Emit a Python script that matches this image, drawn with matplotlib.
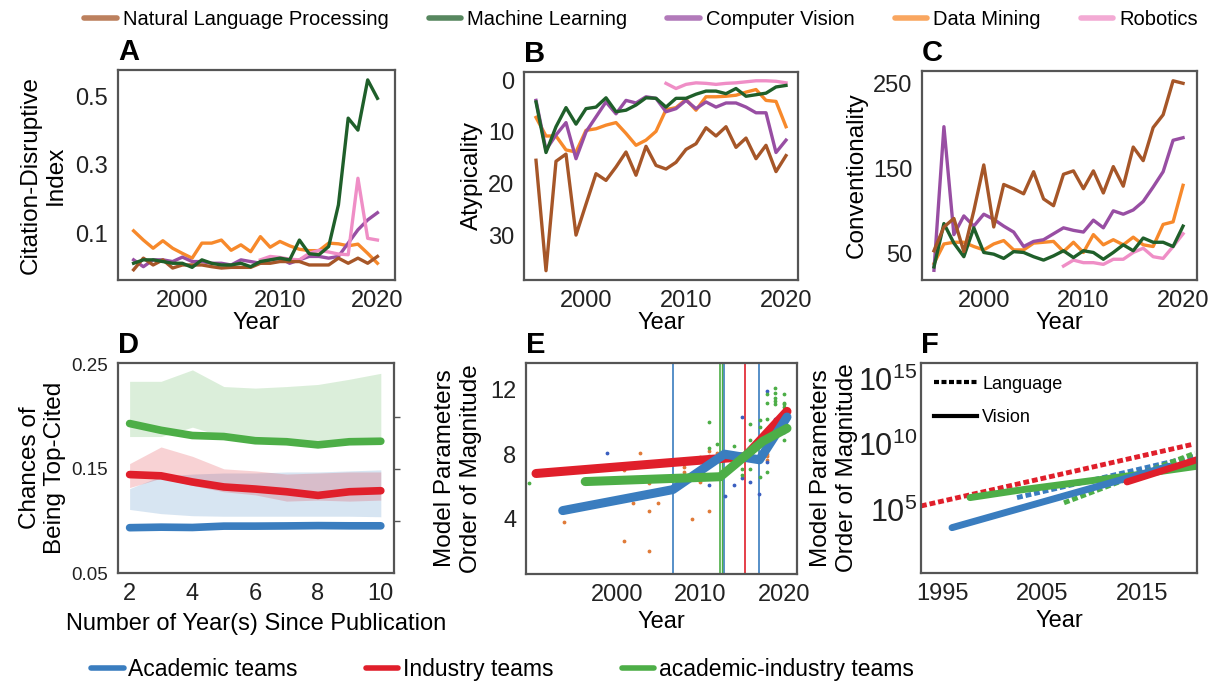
import numpy as np
import matplotlib
matplotlib.use("Agg")
import matplotlib.pyplot as plt
from matplotlib.lines import Line2D

plt.rcParams['font.family'] = ['Liberation Sans', 'DejaVu Sans']

# ---------------- data ----------------
fields = ["Natural Language Processing", "Machine Learning", "Computer Vision",
          "Data Mining", "Robotics"]
field_colors = ["#a65628", "#1f5f2a", "#984ea3", "#f7892b", "#ef8ec6"]

years = np.arange(1995, 2021)
years_rob = np.arange(2008, 2021)

# A: citation-disruptive index
cd_nlp = [-0.007, 0.027, 0.007, 0.022, -0.002, 0.007, 0.007, 0.007, 0.002, -0.002, 0.0, 0.0, 0.0,
          0.012, 0.012, 0.017, 0.017, 0.017, 0.007, 0.007, 0.007, 0.027, 0.012, 0.027, 0.012, 0.032]
cd_ml = [0.012, 0.022, 0.022, 0.017, 0.012, 0.012, 0.0, 0.022, 0.012, 0.007, 0.007, 0.012, 0.002,
         0.017, 0.022, 0.027, 0.022, 0.08, 0.04, 0.037, 0.061, 0.183, 0.437, 0.402, 0.549, 0.495]
cd_cv = [0.022, 0.002, 0.022, 0.022, 0.017, 0.03, 0.017, 0.017, 0.012, 0.012, 0.007, 0.022, 0.017,
         0.012, 0.022, 0.027, 0.012, 0.022, 0.032, 0.032, 0.027, 0.032, 0.071, 0.11, 0.139, 0.16]
cd_dm = [0.107, 0.08, 0.056, 0.078, 0.056, 0.041, 0.027, 0.071, 0.071, 0.08, 0.05, 0.066, 0.046,
         0.09, 0.059, 0.076, 0.063, 0.053, 0.049, 0.049, 0.071, 0.069, 0.063, 0.068, 0.041, 0.012]
cd_rob = [0.022, 0.032, 0.029, 0.024, 0.022, 0.041, 0.05, 0.045, 0.039, 0.037, 0.261, 0.085, 0.08]

# B: atypicality
at_nlp = [15.5, 36.9, 15.7, 14.3, 30.0, 24.0, 18.1, 19.4, 16.8, 13.9, 18.4, 12.8, 16.5,
          17.2, 15.9, 13.4, 12.3, 9.2, 10.8, 9.0, 13.0, 11.2, 15.2, 12.6, 17.7, 14.6]
at_ml = [4.2, 14.0, 9.0, 5.3, 8.5, 5.5, 5.2, 3.4, 6.1, 5.8, 4.8, 3.4, 3.5,
         5.2, 3.5, 3.5, 2.7, 2.1, 2.1, 2.6, 1.6, 3.1, 2.8, 2.5, 1.3, 1.0]
at_cv = [3.9, 13.5, 10.6, 8.2, 15.2, 10.0, 7.1, 4.2, 6.5, 3.9, 4.4, 3.2, 3.5,
         6.1, 5.5, 3.9, 5.5, 4.2, 5.2, 4.4, 4.4, 5.2, 6.3, 6.3, 14.0, 11.6]
at_dm = [7.2, 10.8, 10.8, 13.5, 13.9, 9.7, 9.4, 8.7, 8.2, 10.3, 12.6, 11.6, 9.9,
         5.7, 5.3, 3.7, 5.8, 3.2, 3.2, 3.1, 2.9, 2.3, 1.8, 3.9, 4.1, 9.0]
at_rob = [0.6, 1.6, 0.8, 0.5, 0.6, 0.8, 0.6, 0.5, 0.3, 0.1, 0.1, 0.2, 0.5]

# C: conventionality
cv_nlp = [53, 81, 91, 52, 100, 154, 81, 131, 126, 120, 146, 114, 106,
          143, 147, 126, 147, 121, 152, 129, 175, 159, 198, 213, 253, 250]
cv_ml = [34, 85, 62, 46, 80, 51, 49, 44, 52, 51, 46, 42, 47,
         53, 45, 53, 51, 43, 51, 60, 53, 68, 63, 63, 58, 82]
cv_cv = [30, 199, 72, 94, 82, 96, 90, 82, 75, 58, 64, 66, 73,
         80, 77, 75, 89, 80, 100, 96, 101, 111, 128, 146, 183, 186]
cv_dm = [38, 61, 63, 63, 58, 54, 61, 65, 54, 54, 62, 63, 64,
         52, 63, 51, 72, 60, 66, 60, 69, 60, 58, 84, 87, 130]
cv_rob = [35, 42, 39, 39, 37, 43, 43, 51, 56, 46, 44, 58, 73]

# D: chances of being top-cited
teams = ["Academic teams", "Industry teams", "academic-industry teams"]
team_colors = ["#3a7dbf", "#e01f2b", "#4dae47"]
since = np.arange(2, 11)
top_acad = [0.0935, 0.094, 0.0937, 0.095, 0.095, 0.0952, 0.0955, 0.0953, 0.0953]
top_acad_lo = [0.111, 0.107, 0.105, 0.1045, 0.1045, 0.1045, 0.1045, 0.1045, 0.104]
top_acad_hi = [0.131, 0.143, 0.145, 0.146, 0.146, 0.147, 0.147, 0.148, 0.149]
top_ind = [0.1445, 0.1433, 0.1374, 0.1326, 0.1306, 0.128, 0.1245, 0.128, 0.129]
top_ind_lo = [0.132, 0.141, 0.134, 0.128, 0.125, 0.119, 0.12, 0.119, 0.12]
top_ind_hi = [0.155, 0.171, 0.162, 0.15, 0.148, 0.145, 0.146, 0.147, 0.147]
top_mix = [0.1935, 0.187, 0.182, 0.181, 0.177, 0.176, 0.173, 0.176, 0.1765]
top_mix_lo = [0.181, 0.181, 0.19, 0.181, 0.176, 0.174, 0.172, 0.174, 0.175]
top_mix_hi = [0.234, 0.234, 0.245, 0.229, 0.2275, 0.229, 0.231, 0.236, 0.2417]

# E: model parameters (order of magnitude), fitted trends and points
e_acad_x = [1993.5, 2006.7, 2012.9, 2017.1, 2020.4]
e_acad_y = [4.5, 5.8, 8.0, 7.65, 10.3]
e_ind_x = [1990.3, 2015.4, 2020.4]
e_ind_y = [6.8, 7.85, 10.65]
e_mix_x = [1996.2, 2012.4, 2017.5, 2020.4]
e_mix_y = [6.3, 6.6, 8.8, 9.6]
e_breaks_acad = [2006.7, 2012.9, 2017.1]
e_breaks_ind = [2015.4]
e_breaks_mix = [2012.4]

pts_orange_x = [1993.6, 2000.8, 2002.8, 2003.9, 2003.9, 2003.9, 2004.9, 2001.9, 2000.8, 2008, 2008,
                2009, 2010, 2010, 2011, 2011, 2011, 2012, 2018, 2018, 2018]
pts_orange_y = [3.8, 2.6, 8.1, 2.0, 4.5, 6.2, 5.0, 5.0, 7.0, 7.2, 6.9,
                4.0, 7.85, 6.3, 8.2, 7.9, 4.5, 8.1, 7.65, 7.9, 8.0]
pts_blue_x = [1998.8, 2011, 2013, 2014, 2015, 2015, 2016, 2017.1, 2018, 2018, 2019, 2020]
pts_blue_y = [8.1, 6.1, 5.4, 6.1, 10.3, 6.5, 6.3, 5.5, 7.5, 11.9, 10.2, 9.4]
pts_green_x = [1989.5, 2011, 2011, 2012, 2013, 2014, 2015, 2015, 2016, 2016, 2016, 2017.2, 2017.2,
               2017.2, 2018, 2018, 2018, 2018, 2018, 2019, 2019, 2019, 2019, 2019, 2020, 2020,
               2020, 2020, 2020, 2020]
pts_green_y = [6.2, 10.0, 8.4, 8.6, 6.9, 8.5, 7.1, 6.7, 9.85, 8.9, 7.1, 10.1, 9.7,
               6.6, 11.7, 11.2, 10.2, 8.6, 6.9, 12.1, 11.8, 11.5, 11.3, 11.1, 11.7, 11.2,
               11.1, 10.9, 9.5, 8.9]

# F: log10 of parameters, language (dashed) vs vision (solid)
f_lang_acad_x = [2002.5, 2020.2]
f_lang_acad_y = [5.9, 9.05]
f_lang_ind_x = [1992.9, 2020.2]
f_lang_ind_y = [5.26, 10.0]
f_lang_mix_x = [2007.2, 2020.3]
f_lang_mix_y = [5.5, 9.3]
f_vis_acad_x = [1996.0, 2017.7]
f_vis_acad_y = [3.6, 8.3]
f_vis_ind_x = [2013.5, 2020.5]
f_vis_ind_y = [7.1, 8.8]
f_vis_mix_x = [1997.8, 2003, 2009, 2015, 2020.5]
f_vis_mix_y = [5.9, 6.5, 7.1, 7.7, 8.3]

# ---------------- figure ----------------
W, H = 1221, 688
fig = plt.figure(figsize=(W / 100, H / 100), dpi=100)


def box(l, t, r, b):
    return fig.add_axes([l / W, 1 - b / H, (r - l) / W, (b - t) / H])


def style(ax, size=17):
    for s in ax.spines.values():
        s.set_color("#555555")
        s.set_linewidth(1.6)
    ax.tick_params(length=0, labelsize=size, pad=7, colors="#222222")


def letter(ax, txt):
    ax.text(0.0, 1.02, txt, transform=ax.transAxes, fontsize=21, fontweight="bold",
            ha="left", va="bottom")


lw = 2.4
# A
axA = box(118, 70, 395, 280)
style(axA)
axA.plot(years, cd_dm, color=field_colors[3], lw=lw)
axA.plot(years, cd_cv, color=field_colors[2], lw=lw)
axA.plot(years_rob, cd_rob, color=field_colors[4], lw=lw)
axA.plot(years, cd_nlp, color=field_colors[0], lw=lw)
axA.plot(years, cd_ml, color=field_colors[1], lw=lw)
axA.set_xlim(1993.4, 2021.8)
axA.set_ylim(-0.037, 0.578)
axA.set_yticks([0.1, 0.3, 0.5])
axA.set_yticklabels(["0.1", "0.3", "0.5"])
axA.set_xticks([2000, 2010, 2020])
axA.set_xlabel("Year", fontsize=17, labelpad=0)
axA.set_ylabel("Citation-Disruptive\nIndex", fontsize=17.5, labelpad=6)
letter(axA, "A")

# B
axB = box(524, 72, 798, 280)
style(axB)
axB.plot(years, at_nlp, color=field_colors[0], lw=lw)
axB.plot(years, at_dm, color=field_colors[3], lw=lw)
axB.plot(years, at_cv, color=field_colors[2], lw=lw)
axB.plot(years_rob, at_rob, color=field_colors[4], lw=lw)
axB.plot(years, at_ml, color=field_colors[1], lw=lw)
axB.set_xlim(1993.8, 2021.2)
axB.set_ylim(38.7, -1.6)
axB.set_yticks([0, 10, 20, 30])
axB.set_xticks([2000, 2010, 2020])
axB.set_xlabel("Year", fontsize=17, labelpad=0)
axB.set_ylabel("Atypicality", fontsize=17.5, labelpad=4)
letter(axB, "B")

# C
axC = box(922, 71, 1197, 280)
style(axC)
axC.plot(years, cv_dm, color=field_colors[3], lw=lw)
axC.plot(years, cv_cv, color=field_colors[2], lw=lw)
axC.plot(years_rob, cv_rob, color=field_colors[4], lw=lw)
axC.plot(years, cv_ml, color=field_colors[1], lw=lw)
axC.plot(years, cv_nlp, color=field_colors[0], lw=lw)
axC.set_xlim(1993.8, 2021.4)
axC.set_ylim(18.6, 264.5)
axC.set_yticks([50, 150, 250])
axC.set_xticks([2000, 2010, 2020])
axC.set_xlabel("Year", fontsize=17, labelpad=0)
axC.set_ylabel("Conventionality", fontsize=17.5, labelpad=4)
letter(axC, "C")

# D
axD = box(118, 363, 394, 573)
style(axD)
axD.tick_params(axis="y", labelsize=13.5)
axD.tick_params(axis="x", labelsize=17)
bands = [(top_acad, top_acad_lo, top_acad_hi), (top_ind, top_ind_lo, top_ind_hi),
         (top_mix, top_mix_lo, top_mix_hi)]
for (m, lo, hi), c in zip(bands, team_colors):
    axD.fill_between(since, lo, hi, color=c, alpha=0.2, lw=0)
for (m, lo, hi), c in zip(bands, team_colors):
    axD.plot(since, m, color=c, lw=5.5, solid_capstyle="round")
axD.set_xlim(1.63, 10.42)
axD.set_ylim(0.05, 0.2516)
axD.set_yticks([0.05, 0.15, 0.25])
axD.set_yticklabels(["0.05", "0.15", "0.25"])
axD.set_xticks([2, 4, 6, 8, 10])
axR = axD.twinx()
axR.set_ylim(axD.get_ylim())
axR.set_yticks([0.10, 0.15, 0.20])
axR.tick_params(axis="y", length=4, width=1, colors="#555555", labelright=False)
for s in axR.spines.values():
    s.set_visible(False)
axD.set_xlabel("Number of Year(s) Since Publication", fontsize=17, labelpad=6)
axD.set_ylabel("Chances of\nBeing Top-Cited", fontsize=17.5, labelpad=4)
letter(axD, "D")

# E
axE = box(526, 363, 797, 574)
style(axE)
axE.scatter(pts_orange_x, pts_orange_y, s=3, color="#e07b39", zorder=2)
axE.scatter(pts_blue_x, pts_blue_y, s=3, color="#3b5fc0", zorder=2)
axE.scatter(pts_green_x, pts_green_y, s=3, color="#4dae47", zorder=2)
for x in e_breaks_acad:
    axE.axvline(x, color=team_colors[0], lw=1.2, zorder=1)
for x in e_breaks_mix:
    axE.axvline(x, color=team_colors[2], lw=1.2, zorder=1)
    axE.axvline(x + 0.25, color=team_colors[2], lw=1.0, zorder=1)
for x in e_breaks_ind:
    axE.axvline(x, color=team_colors[1], lw=1.2, zorder=1)
axE.plot(e_ind_x, e_ind_y, color=team_colors[1], lw=6.5, solid_capstyle="round", zorder=3)
axE.plot(e_acad_x, e_acad_y, color=team_colors[0], lw=6.5, solid_capstyle="round", zorder=3)
axE.plot(e_mix_x, e_mix_y, color=team_colors[2], lw=6.5, solid_capstyle="round", zorder=4)
axE.set_xlim(1989.1, 2021.6)
axE.set_ylim(0.57, 13.65)
axE.set_yticks([4, 8, 12])
axE.set_xticks([2000, 2010, 2020])
axE.set_xlabel("Year", fontsize=17, labelpad=4)
axE.set_ylabel("Model Parameters\nOrder of Magnitude", fontsize=17.5, labelpad=6)
letter(axE, "E")

# F
axF = box(921, 363, 1197, 573)
style(axF, size=17)
dash = (0, (1.2, 0.6))
lines_f = [
    (f_lang_ind_x, f_lang_ind_y, team_colors[1], dash),
    (f_lang_acad_x, f_lang_acad_y, team_colors[0], dash),
    (f_lang_mix_x, f_lang_mix_y, team_colors[2], dash),
    (f_vis_mix_x, f_vis_mix_y, team_colors[2], "-"),
    (f_vis_acad_x, f_vis_acad_y, team_colors[0], "-"),
    (f_vis_ind_x, f_vis_ind_y, team_colors[1], "-"),
]
for xs, ys, c, ls in lines_f:
    axF.plot(xs, 10 ** np.array(ys), color=c, ls=ls, lw=3.5 if ls != "-" else 5,
             solid_capstyle="round")
axF.set_yscale("log")
axF.set_xlim(1992.9, 2020.5)
axF.set_ylim(10 ** 0.13, 10 ** 16.2)
axF.set_yticks([1e5, 1e10, 1e15])
axF.yaxis.set_minor_locator(matplotlib.ticker.NullLocator())
axF.tick_params(axis="y", labelsize=22, pad=3)
axF.set_xticks([1995, 2005, 2015])
axF.set_xlabel("Year", fontsize=17, labelpad=4)
axF.set_ylabel("Model Parameters\nOrder of Magnitude", fontsize=17.5, labelpad=0)
hF = [Line2D([], [], color="black", ls=(0, (1.2, 0.6)), lw=3),
      Line2D([], [], color="black", ls="-", lw=3)]
axF.legend(hF, ["Language", "Vision"], loc="upper left", frameon=False, fontsize=13,
           handlelength=2.4, handletextpad=0.3, labelspacing=0.9, borderaxespad=0.3)
letter(axF, "F")

# top legend
h_top = [Line2D([], [], color=c, lw=4, alpha=0.75, solid_capstyle="round") for c in field_colors]
fig.legend(h_top, fields, loc="upper center", bbox_to_anchor=(0.525, 1.012), ncol=5,
           frameon=False, fontsize=14.5, handlelength=1.6, handletextpad=0.3,
           columnspacing=2.0)

# bottom legend
h_bot = [Line2D([], [], color=c, lw=4, solid_capstyle="round") for c in team_colors]
fig.legend(h_bot, teams, loc="center left", bbox_to_anchor=(0.058, 0.027), ncol=3,
           frameon=False, fontsize=16.5, handlelength=1.4, handletextpad=0.2,
           columnspacing=3.0)

fig.savefig("out.png", dpi=100)
